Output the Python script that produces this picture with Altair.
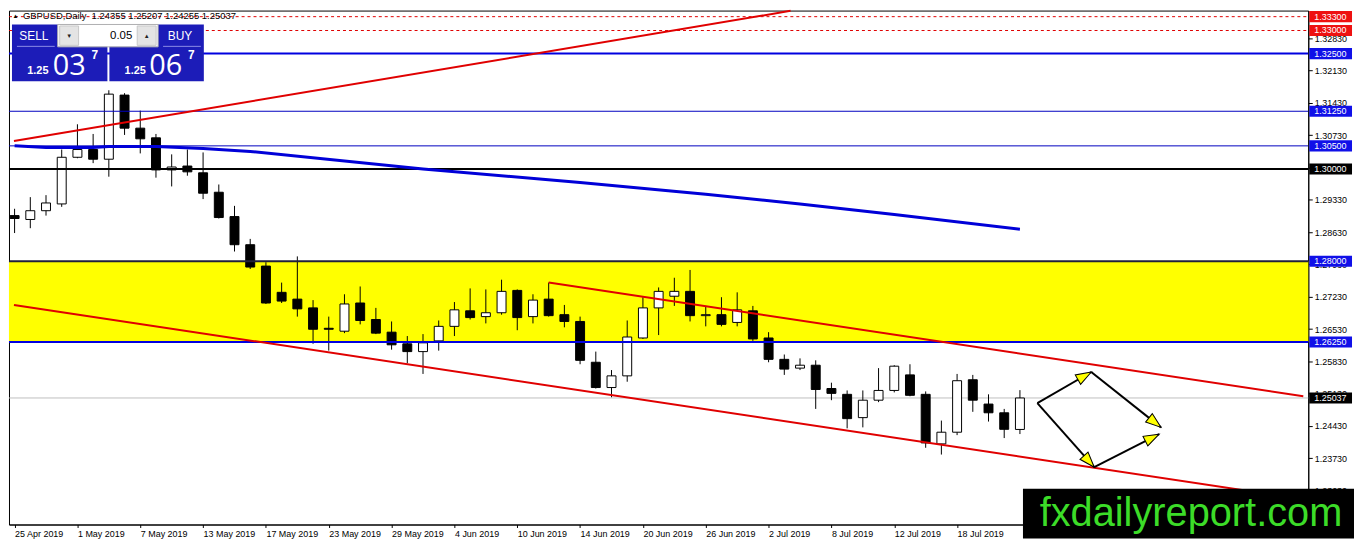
import json
import math
import altair as alt
import pandas as pd

# ---------------- data ----------------
bars = list(range(65))
opens = [1.28989, 1.28905, 1.29095, 1.29242, 1.30253, 1.30421, 1.30211, 1.31600, 1.30884, 1.30674,
         1.29979, 1.30063, 1.29916, 1.29495, 1.28968, 1.28358, 1.27895, 1.27326, 1.27179, 1.26989,
         1.26547, 1.26484, 1.27095, 1.26737, 1.26463, 1.26211, 1.26042, 1.26274, 1.26589, 1.26926,
         1.26800, 1.26884, 1.27368, 1.26800, 1.27179, 1.26842, 1.26695, 1.25811, 1.25263, 1.25516,
         1.26337, 1.26989, 1.27242, 1.27347, 1.26821, 1.26842, 1.26674, 1.26926, 1.26337, 1.25874,
         1.25684, 1.25747, 1.25242, 1.25116, 1.24611, 1.24989, 1.25200, 1.25537, 1.25116, 1.24042,
         1.24295, 1.25432, 1.24905, 1.24716, 1.24355]
highs = [1.29137, 1.29389, 1.29432, 1.30421, 1.30968, 1.30758, 1.31705, 1.31642, 1.31263, 1.30758,
         1.30316, 1.30421, 1.30358, 1.29663, 1.29200, 1.28484, 1.27979, 1.27537, 1.28105, 1.27158,
         1.26800, 1.27284, 1.27453, 1.26989, 1.26695, 1.26379, 1.26421, 1.26716, 1.27116, 1.27411,
         1.27389, 1.27600, 1.27389, 1.27284, 1.27537, 1.27053, 1.26800, 1.26042, 1.25642, 1.26716,
         1.27221, 1.27432, 1.27642, 1.27811, 1.27032, 1.27221, 1.27326, 1.27032, 1.26463, 1.25979,
         1.25895, 1.25853, 1.25368, 1.25200, 1.25200, 1.25684, 1.25747, 1.25768, 1.25179, 1.24547,
         1.25558, 1.25537, 1.25116, 1.24800, 1.25207]
lows = [1.28611, 1.28716, 1.28989, 1.29179, 1.30232, 1.30126, 1.29832, 1.30737, 1.30337, 1.29811,
        1.29621, 1.29853, 1.29347, 1.28926, 1.28211, 1.27832, 1.27074, 1.27095, 1.26800, 1.26211,
        1.26063, 1.26442, 1.26632, 1.26421, 1.26084, 1.25789, 1.25558, 1.26063, 1.26379, 1.26737,
        1.26653, 1.26842, 1.26505, 1.26653, 1.26800, 1.26568, 1.25768, 1.25242, 1.25053, 1.25389,
        1.26316, 1.26400, 1.27032, 1.26695, 1.26589, 1.26589, 1.26589, 1.26274, 1.25811, 1.25537,
        1.25642, 1.24800, 1.24989, 1.24379, 1.24400, 1.24947, 1.25158, 1.25074, 1.23958, 1.23811,
        1.24232, 1.24737, 1.24526, 1.24168, 1.24255]
closes = [1.28926, 1.29095, 1.29263, 1.30253, 1.30421, 1.30211, 1.31621, 1.30884, 1.30653, 1.29979,
          1.30042, 1.29937, 1.29474, 1.28947, 1.28358, 1.27874, 1.27095, 1.27137, 1.26968, 1.26526,
          1.26526, 1.27074, 1.26716, 1.26442, 1.26189, 1.26042, 1.26232, 1.26589, 1.26947, 1.26779,
          1.26884, 1.27347, 1.26779, 1.27158, 1.26821, 1.26695, 1.25853, 1.25263, 1.25516, 1.26358,
          1.26989, 1.27347, 1.27347, 1.26821, 1.26842, 1.26632, 1.26947, 1.26316, 1.25874, 1.25663,
          1.25747, 1.25221, 1.25137, 1.24589, 1.24989, 1.25200, 1.25726, 1.25095, 1.24063, 1.24295,
          1.25411, 1.24989, 1.24716, 1.24358, 1.25037]

date_ticks = [0, 4, 8, 12, 16, 20, 24, 28, 32, 36, 40, 44, 48, 52, 56, 60]
date_labels = ["25 Apr 2019", "1 May 2019", "7 May 2019", "13 May 2019", "17 May 2019",
               "23 May 2019", "29 May 2019", "4 Jun 2019", "10 Jun 2019", "14 Jun 2019",
               "20 Jun 2019", "26 Jun 2019", "2 Jul 2019", "8 Jul 2019", "12 Jul 2019",
               "18 Jul 2019"]

price_ticks = [1.23030, 1.23730, 1.24430, 1.25130, 1.25830, 1.26530, 1.27230, 1.27930,
               1.28630, 1.29330, 1.30030, 1.30730, 1.31430, 1.32130, 1.32830]

ma_bars = [0, 2, 5, 6, 9, 12, 15, 26, 36, 44, 50, 56, 64]
ma_values = [1.30505, 1.30463, 1.30463, 1.30484, 1.30484, 1.30442, 1.30379, 1.30000,
             1.29705, 1.29453, 1.29242, 1.29011, 1.28695]

trend_b1 = [-0.04, -0.04, 34]
trend_p1 = [1.30604, 1.27053, 1.27537]
trend_b2 = [49.4, 82.04, 82.04]
trend_p2 = [1.33426, 1.22842, 1.25076]

arrow_b1 = [65.11, 68.54, 65.11, 68.73]
arrow_p1 = [1.24926, 1.25600, 1.24926, 1.23537]
arrow_b2 = [68.54, 72.98, 68.73, 72.86]
arrow_p2 = [1.25600, 1.24400, 1.23537, 1.24253]

zone_low = [1.2625]
zone_high = [1.2800]

red_dashed_levels = [1.3330, 1.3300]
blue_thick_levels = [1.3250, 1.2625]
blue_thin_levels = [1.3125, 1.3050]
black_levels = [1.3000]
dark_levels = [1.2800]
bid_levels = [1.25037]

label_red = [1.3330, 1.3300]
label_blue = [1.3250, 1.3125, 1.3050, 1.2800, 1.2625]
label_black = [1.3000, 1.25037]

header_text = "GBPUSD,Daily\u00a0 1.24355 1.25207 1.24255 1.25037"

# ---------------- layout ----------------
W = 1307
H = 517
XMIN, XMAX = -0.04, 82.04
YMIN, YMAX = 1.22295, 1.33432
FONT = "Liberation Sans"

xs = alt.Scale(domain=[XMIN, XMAX], nice=False, zero=False)
ys = alt.Scale(domain=[YMIN, YMAX], nice=False, zero=False)

x_axis = alt.Axis(values=date_ticks,
                  labelExpr=json.dumps(date_labels) + "[round(datum.value / 4)]",
                  labelAlign="left", labelBaseline="top", labelPadding=2, labelOffset=0,
                  tickSize=3, labelFlush=False, labelOverlap=False, grid=False, title=None)
y_axis = alt.Axis(orient="right", values=price_ticks, format=".5f", tickSize=4,
                  labelPadding=2, labelFlush=False, labelOverlap=False, grid=False, title=None)

X = alt.X("b:Q", scale=xs, axis=x_axis)
Y = alt.Y("p:Q", scale=ys, axis=y_axis)

one = pd.DataFrame({"k": [0]})

# candles
body_df = pd.DataFrame({"b": bars, "p": opens, "p2": closes})
wick_df = pd.DataFrame({"b": bars, "p": lows, "p2": highs})

wicks = alt.Chart(wick_df).mark_rule(color="black", strokeWidth=1, clip=True).encode(
    x=X, y=Y, y2=alt.Y2("p2:Q"))
bodies = alt.Chart(body_df).mark_bar(width=9, stroke="black", strokeWidth=1, clip=True).encode(
    x=X, y=Y, y2=alt.Y2("p2:Q"),
    fill=alt.condition("datum.p2 >= datum.p", alt.value("white"), alt.value("black")))

# zone
zone = alt.Chart(pd.DataFrame({"p": zone_low, "p2": zone_high})).mark_rect(
    color="#ffff00").encode(x=alt.value(0), x2=alt.value(W), y=Y, y2=alt.Y2("p2:Q"))


def hlines(levels, color, width, dash=None):
    kw = dict(color=color, strokeWidth=width)
    if dash:
        kw["strokeDash"] = dash
    return alt.Chart(pd.DataFrame({"p": levels})).mark_rule(**kw).encode(
        x=alt.value(0), x2=alt.value(W), y=Y)


bid = hlines(bid_levels, "#c0c0c0", 1)
lv_red = hlines(red_dashed_levels, "#e00000", 1, [3, 3])
lv_blue_thick = hlines(blue_thick_levels, "#0000e0", 2)
lv_blue_thin = hlines(blue_thin_levels, "#0000c0", 1)
lv_black = hlines(black_levels, "black", 2)
lv_dark = hlines(dark_levels, "#20203a", 2)

ma = alt.Chart(pd.DataFrame({"b": ma_bars, "p": ma_values})).mark_line(
    color="#0000d8", strokeWidth=3).encode(x=X, y=Y)

trend_df = pd.DataFrame({"b": trend_b1, "p": trend_p1, "b2": trend_b2, "p2": trend_p2})
trends = alt.Chart(trend_df).mark_rule(color="#e00000", strokeWidth=2).encode(
    x=X, y=Y, x2=alt.X2("b2:Q"), y2=alt.Y2("p2:Q"))

arrow_df = pd.DataFrame({"b": arrow_b1, "p": arrow_p1, "b2": arrow_b2, "p2": arrow_p2})
arrows = alt.Chart(arrow_df).mark_rule(color="black", strokeWidth=2).encode(
    x=X, y=Y, x2=alt.X2("b2:Q"), y2=alt.Y2("p2:Q"))

# arrow heads placed at the segment ends, rotated along each segment
ppb = W / (XMAX - XMIN)
ppp = H / (YMAX - YMIN)
HEAD_SIZE = 240
half = math.sqrt(HEAD_SIZE) / 2
hb, hp, ha = [], [], []
for b1, p1, b2, p2 in zip(arrow_b1, arrow_p1, arrow_b2, arrow_p2):
    dx = (b2 - b1) * ppb
    dy = -(p2 - p1) * ppp
    ln = math.hypot(dx, dy)
    t = 1 - half / ln
    hb.append(b1 + (b2 - b1) * t)
    hp.append(p1 + (p2 - p1) * t)
    ha.append(math.degrees(math.atan2(dx, -dy)) % 360)
head_df = pd.DataFrame({"b": hb, "p": hp, "ang": ha})
heads = alt.Chart(head_df).mark_point(
    shape="M0,-1L0.7,1L-0.7,1Z", size=HEAD_SIZE, filled=True, fill="#ffff00",
    stroke="black", strokeWidth=1, opacity=1).encode(
    x=X, y=Y, angle=alt.Angle("ang:Q", scale=None))

# price label boxes on the right axis
BOX_HALF = 5.6 / ppp


def label_boxes(levels, color):
    df = pd.DataFrame({"p": [v - BOX_HALF for v in levels], "p2": [v + BOX_HALF for v in levels]})
    box = alt.Chart(df).mark_rect(color=color).encode(
        x=alt.value(W + 1), x2=alt.value(W + 44), y=Y, y2=alt.Y2("p2:Q"))
    txt = alt.Chart(pd.DataFrame({"p": levels})).mark_text(
        align="left", baseline="middle", fontSize=9, color="white", font=FONT).encode(
        x=alt.value(W + 6), y=Y, text=alt.Text("p:Q", format=".5f"))
    return [box, txt]


labels = label_boxes(label_red, "#ee1111") + label_boxes(label_blue, "#1010e8") + \
    label_boxes(label_black, "black")


def rect(x, x2, y, y2, **kw):
    return alt.Chart(one).mark_rect(**kw).encode(
        x=alt.value(x), x2=alt.value(x2), y=alt.value(y), y2=alt.value(y2))


def text(s, x, y, size, color, align="left", baseline="alphabetic", weight="normal", font=FONT):
    return alt.Chart(one).mark_text(text=s, align=align, baseline=baseline, fontSize=size,
                                    color=color, fontWeight=weight, font=font).encode(
        x=alt.value(x), y=alt.value(y))


def seg(x, x2, y, color, width=1):
    return alt.Chart(one).mark_rule(color=color, strokeWidth=width).encode(
        x=alt.value(x), x2=alt.value(x2), y=alt.value(y))


# watermark
watermark = [
    rect(1020, W + 46, 481, H + 14, color="black"),
    text("fxdailyreport.com", 1189, 518, 40, "#3cdc28", align="center"),
]

# one-click trading widget
BLUE = "#1c1cb8"
widget = [
    rect(3, 99, 14, 71, color=BLUE),
    rect(101, 196, 14, 71, color=BLUE),
    seg(8, 46, 36, "#8c8ce6"),
    seg(155, 193, 36, "#8c8ce6"),
    rect(49, 150, 14, 36.5, fill="white", stroke="#b0b0b0", strokeWidth=1),
    rect(51, 70, 15.5, 35, fill="#e4e4e4", stroke="#c8c8c8", strokeWidth=1),
    rect(129, 148, 15.5, 35, fill="#e4e4e4", stroke="#c8c8c8", strokeWidth=1),
    text("\u25bc", 60.5, 25.5, 6, "#222", align="center", baseline="middle"),
    text("\u25b2", 138.5, 25.5, 6, "#222", align="center", baseline="middle"),
    text("0.05", 124, 26, 11.5, "black", align="right", baseline="middle"),
    text("SELL", 25, 26, 12, "white", align="center", baseline="middle"),
    text("BUY", 172, 26, 12, "white", align="center", baseline="middle"),
    text("1.25", 29, 64, 11, "white", align="center", weight="bold"),
    text("03", 44, 65, 29, "white", font="Open Sans"),
    text("7", 83, 49, 12, "white", weight="bold"),
    text("1.25", 127, 64, 11, "white", align="center", weight="bold"),
    text("06", 141, 65, 29, "white", font="Open Sans"),
    text("7", 180, 49, 12, "white", weight="bold"),
]

header = [
    text("\u25b2", 6.5, 5, 6, "black", align="center", baseline="middle"),
    text(header_text, 14, 5, 9.5, "black", baseline="middle"),
]

layers = [zone, bid, wicks, bodies, lv_red, lv_blue_thick, lv_blue_thin, lv_black, lv_dark,
          ma, trends, arrows, heads] + labels + watermark + header + widget

chart = alt.layer(*layers).properties(
    width=W, height=H,
    padding={"left": 1, "top": 1, "right": 46, "bottom": 14},
    autosize=alt.AutoSizeParams(type="none"),
    background="white",
).configure_view(
    stroke="black", strokeWidth=1
).configure_axis(
    labelFont=FONT, labelFontSize=9, labelColor="black", tickColor="black",
    domainColor="black", domainWidth=1, tickWidth=1
)

chart.save("out.html", embed_options={"renderer": "svg", "actions": False})
